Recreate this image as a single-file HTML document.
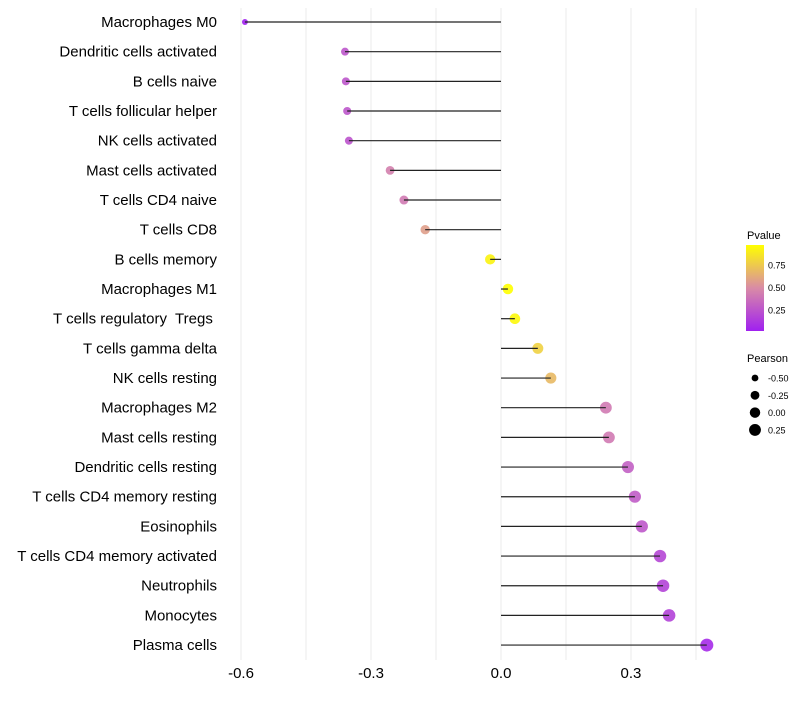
<!DOCTYPE html>
<html><head><meta charset="utf-8"><style>
body{margin:0;background:#fff;font-family:"Liberation Sans",sans-serif}
svg text{font-family:"Liberation Sans",sans-serif;white-space:pre}
</style></head><body>
<svg id="c" width="800" height="700"></svg>
<script>
const categories=["Macrophages M0","Dendritic cells activated","B cells naive","T cells follicular helper","NK cells activated","Mast cells activated","T cells CD4 naive","T cells CD8","B cells memory","Macrophages M1","T cells regulatory  Tregs ","T cells gamma delta","NK cells resting","Macrophages M2","Mast cells resting","Dendritic cells resting","T cells CD4 memory resting","Eosinophils","T cells CD4 memory activated","Neutrophils","Monocytes","Plasma cells"];
const pearson=[-0.591,-0.36,-0.358,-0.355,-0.351,-0.256,-0.224,-0.175,-0.025,0.016,0.032,0.085,0.115,0.242,0.249,0.293,0.309,0.325,0.367,0.374,0.388,0.475];
const pvalue=[0.0,0.25,0.25,0.25,0.24,0.45,0.42,0.58,0.95,1.0,0.97,0.8,0.7,0.42,0.42,0.3,0.28,0.26,0.18,0.17,0.16,0.05];
const xTicks=[-0.6,-0.3,0.0,0.3];
const xTickLabels=["-0.6","-0.3","0.0","0.3"];
const pTicks=[0.25,0.5,0.75];
const pTickLabels=["0.25","0.50","0.75"];
const sizeLegend=[-0.5,-0.25,0,0.25];
const sizeLegendLabels=["-0.50","-0.25","0.00","0.25"];

const NS="http://www.w3.org/2000/svg";
const svg=document.getElementById('c');
const x=v=>501+v*433.3;
const y=i=>22+i*29.67;
const r=v=>Math.sqrt(Math.max(2.25,27.3+31.4*v));
function col(p){
  const stops=[[0,[160,32,240]],[0.5,[217,139,166]],[1,[255,255,0]]];
  let a=stops[0],b=stops[1];if(p>0.5){a=stops[1];b=stops[2];}
  const t=(p-a[0])/(b[0]-a[0]);
  return 'rgb('+a[1].map((c,k)=>Math.round(c+(b[1][k]-c)*t)).join(',')+')';
}
function el(t,at,txt){const e=document.createElementNS(NS,t);for(const k in at)e.setAttribute(k,at[k]);if(txt!=null)e.textContent=txt;svg.appendChild(e);return e;}
for(let v=-0.6;v<=0.46;v+=0.15){
  const g=el('line',{x1:x(v),x2:x(v),y1:8,y2:660,stroke:'#ebebeb','stroke-width':1});
  
  
}
xTicks.forEach((v,i)=>{
  const t=el('text',{x:x(v),y:678,'text-anchor':'middle','font-size':15,fill:'#000'},xTickLabels[i]);
  
  
});
categories.forEach((c,i)=>{
  const t=el('text',{x:217,y:y(i)+5,'text-anchor':'end','font-size':15,fill:'#000'},c);
  
  
  const d=el('circle',{cx:x(pearson[i]),cy:y(i),r:r(pearson[i]),fill:col(pvalue[i]),'fill-opacity':0.9});
  
  
  const l=el('line',{x1:x(0),x2:x(pearson[i]),y1:y(i),y2:y(i),stroke:'#222','stroke-width':1.2});
  
  
});
const lt=el('text',{x:747,y:239,'font-size':11,fill:'#000'},'Pvalue');


const defs=el('defs',{});
const lg=document.createElementNS(NS,'linearGradient');lg.setAttribute('id','pg');lg.setAttribute('x1','0');lg.setAttribute('y1','1');lg.setAttribute('x2','0');lg.setAttribute('y2','0');
[[0,'#a020f0'],[0.5,'#d98ba6'],[1,'#ffff00']].forEach(s=>{const st=document.createElementNS(NS,'stop');st.setAttribute('offset',s[0]);st.setAttribute('stop-color',s[1]);lg.appendChild(st);});
defs.appendChild(lg);
const cb=el('rect',{x:746,y:245,width:18,height:86,fill:'url(#pg)'});


const py=p=>331-(p-0.02)/0.95*86;
pTicks.forEach((p,i)=>{
  const t=el('text',{x:768,y:py(p)+3.5,'font-size':9,fill:'#000'},pTickLabels[i]);
  
  
});
const st=el('text',{x:747,y:362,'font-size':11,fill:'#000'},'Pearson');


sizeLegend.forEach((v,i)=>{
  const cy=378+i*17.3;
  const c=el('circle',{cx:755,cy:cy,r:r(v),fill:'#000'});
  
  
  const t=el('text',{x:768,y:cy+3.5,'font-size':9,fill:'#000'},sizeLegendLabels[i]);
  
  
});
</script>
</body></html>
